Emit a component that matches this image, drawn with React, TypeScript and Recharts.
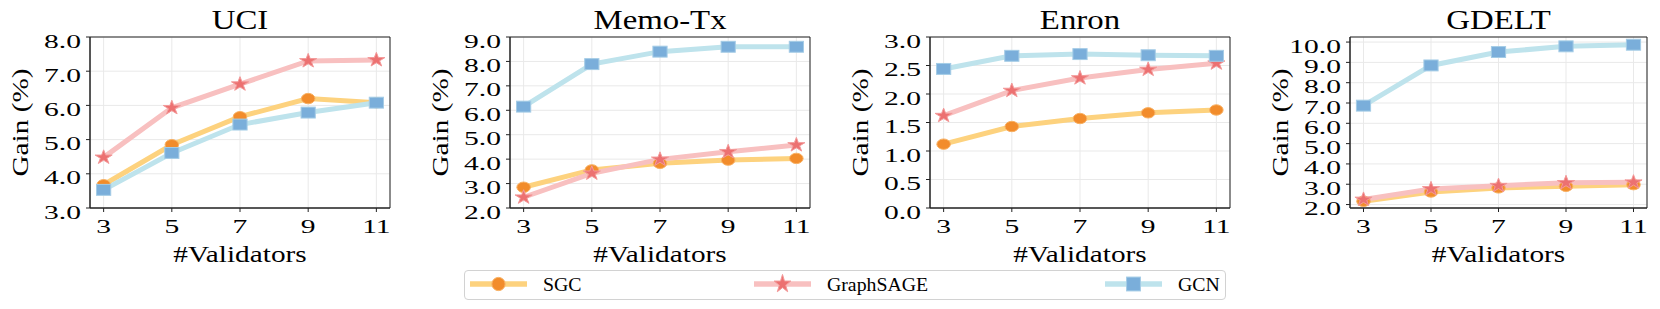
import React from 'react';
import { LineChart, Line, XAxis, YAxis, CartesianGrid, ReferenceArea } from 'recharts';

const FONT = '"Liberation Serif", "DejaVu Serif", serif';

const validators = [3, 5, 7, 9, 11];
const datasets = ['UCI', 'Memo-Tx', 'Enron', 'GDELT'];

// gain (%) at 3 / 5 / 7 / 9 / 11 validators
const sgcUci = [3.68, 4.85, 5.67, 6.2, 6.08];
const sageUci = [4.48, 5.93, 6.62, 7.3, 7.33];
const gcnUci = [3.53, 4.61, 5.44, 5.79, 6.08];

const sgcMemo = [2.85, 3.56, 3.83, 3.96, 4.03];
const sageMemo = [2.44, 3.42, 3.99, 4.3, 4.58];
const gcnMemo = [6.15, 7.89, 8.4, 8.6, 8.6];

const sgcEnron = [1.12, 1.43, 1.57, 1.67, 1.72];
const sageEnron = [1.62, 2.06, 2.28, 2.43, 2.54];
const gcnEnron = [2.44, 2.67, 2.7, 2.68, 2.67];

const sgcGdelt = [2.16, 2.62, 2.82, 2.9, 2.98];
const sageGdelt = [2.25, 2.77, 2.93, 3.07, 3.1];
const gcnGdelt = [6.87, 8.85, 9.51, 9.79, 9.87];

const yTicksUci = [3, 4, 5, 6, 7, 8];
const yTicksMemo = [2, 3, 4, 5, 6, 7, 8, 9];
const yTicksEnron = [0, 0.5, 1, 1.5, 2, 2.5, 3];
const yTicksGdelt = [2, 3, 4, 5, 6, 7, 8, 9, 10];

const series = [
  { key: 'sgc', name: 'SGC', line: '#FDD27E', fill: '#F28C2B', edge: '#F8B062', shape: 'circle' },
  { key: 'sage', name: 'GraphSAGE', line: '#F8C0C0', fill: '#EC7171', edge: '#F39A9A', shape: 'star' },
  { key: 'gcn', name: 'GCN', line: '#BEE3EC', fill: '#7AAEDA', edge: '#A4CCE6', shape: 'square' },
];

const panels = [
  { title: datasets[0], sgc: sgcUci, sage: sageUci, gcn: gcnUci, domain: [3, 8], ticks: yTicksUci, left: 90, width: 300 },
  { title: datasets[1], sgc: sgcMemo, sage: sageMemo, gcn: gcnMemo, domain: [2, 9], ticks: yTicksMemo, left: 510, width: 300 },
  { title: datasets[2], sgc: sgcEnron, sage: sageEnron, gcn: gcnEnron, domain: [0, 3], ticks: yTicksEnron, left: 930, width: 300 },
  { title: datasets[3], sgc: sgcGdelt, sage: sageGdelt, gcn: gcnGdelt, domain: [1.83, 10.25], ticks: yTicksGdelt, left: 1350, width: 297 },
];

const PLOT_TOP = 37;
const PLOT_BOTTOM = 208;
const H = 309;
const Y_AXIS_W = 90;
const X_AXIS_H = 60;
const TICK_SX = 1.5; // panel text is stretched sideways in the original
const TICK_FS = 19.7;

function starPath(cx: number, cy: number, r: number, sx: number) {
  const pts: string[] = [];
  for (let k = 0; k < 10; k++) {
    const rad = k % 2 === 0 ? r : r * 0.382;
    const a = (-90 + k * 36) * Math.PI / 180;
    pts.push(`${cx + Math.cos(a) * rad * sx},${cy + Math.sin(a) * rad}`);
  }
  return 'M' + pts.join('L') + 'Z';
}

function Marker({ shape, cx, cy, fill, edge, sx, size }: any) {
  if (cx == null || cy == null) return null;
  if (shape === 'circle') {
    return <ellipse cx={cx} cy={cy} rx={size * sx} ry={size} fill={fill} stroke={edge} strokeWidth={1} />;
  }
  if (shape === 'square') {
    const w = size * 1.05;
    return <rect x={cx - w * sx} y={cy - w} width={2 * w * sx} height={2 * w} fill={fill} stroke={edge} strokeWidth={1} />;
  }
  return <path d={starPath(cx, cy, size * 1.45, sx * 0.92)} fill={fill} stroke={edge} strokeWidth={1} />;
}

const XTick = (props: any) => {
  const { x, y, payload } = props;
  return (
    <g transform={`translate(${x},${y})`}>
      <text transform={`scale(${TICK_SX},1)`} textAnchor="middle" y={19.3} fontSize={TICK_FS} fontFamily={FONT} fill="#000">
        {payload.value}
      </text>
    </g>
  );
};

const YTick = (props: any) => {
  const { x, y, payload } = props;
  return (
    <g transform={`translate(${x},${y})`}>
      <text transform={`scale(${TICK_SX},1)`} textAnchor="end" y={10.5} fontSize={TICK_FS} fontFamily={FONT} fill="#000">
        {Number(payload.value).toFixed(1)}
      </text>
    </g>
  );
};

const XLabel = ({ viewBox }: any) => {
  const cx = viewBox.x + viewBox.width / 2;
  const y = viewBox.y + 53.7;
  return (
    <text transform={`translate(${cx},${y}) scale(1.29,1)`} textAnchor="middle" fontSize={22.7} fontFamily={FONT} fill="#000">
      #Validators
    </text>
  );
};

function Panel({ p }: { p: any }) {
  const data = validators.map((v, i) => ({ x: v, sgc: p.sgc[i], sage: p.sage[i], gcn: p.gcn[i] }));
  const w = p.width + Y_AXIS_W + 10;
  return (
    <div style={{ position: 'absolute', left: p.left - Y_AXIS_W, top: 0, width: w, height: H }}>
      <LineChart
        width={w}
        height={H}
        data={data}
        margin={{ top: PLOT_TOP, right: 10, left: 0, bottom: H - PLOT_BOTTOM - X_AXIS_H }}
      >
        <CartesianGrid stroke="#e9e9e9" strokeWidth={1} />
        <XAxis
          dataKey="x"
          type="number"
          domain={[2.6, 11.4]}
          ticks={validators}
          interval={0}
          allowDataOverflow
          height={X_AXIS_H}
          tickSize={4}
          tickMargin={2}
          tick={<XTick />}
          tickLine={{ stroke: '#222' }}
          axisLine={{ stroke: '#222' }}
          label={<XLabel />}
        />
        <YAxis
          type="number"
          domain={p.domain}
          ticks={p.ticks}
          interval={0}
          allowDataOverflow
          width={Y_AXIS_W}
          tickSize={4}
          tickMargin={5}
          tick={<YTick />}
          tickLine={{ stroke: '#222' }}
          axisLine={{ stroke: '#222' }}
        />
        <ReferenceArea x1={2.6} x2={11.4} y1={p.domain[0]} y2={p.domain[1]} fill="none" stroke="#222" strokeWidth={1} />
        {series.map((s) => (
          <Line
            key={s.key}
            dataKey={s.key}
            stroke={s.line}
            strokeWidth={5}
            isAnimationActive={false}
            activeDot={false}
            dot={(d: any) => (
              <Marker key={`${s.key}-${d.index}`} shape={s.shape} cx={d.cx} cy={d.cy} fill={s.fill} edge={s.edge} sx={1.3} size={5.2} />
            )}
          />
        ))}
      </LineChart>
    </div>
  );
}

const legendSlots = [5, 289, 640];

function Legend() {
  return (
    <div
      style={{
        position: 'absolute', left: 464, top: 270, width: 762, height: 30,
        border: '1px solid #d2d2d2', borderRadius: 4, boxSizing: 'border-box', background: '#fff',
      }}
    >
      <svg width={760} height={28} style={{ position: 'absolute', left: 0, top: 0 }}>
        {series.map((s, i) => {
          const x0 = legendSlots[i];
          return (
            <g key={s.key}>
              <line x1={x0} x2={x0 + 57} y1={13} y2={13} stroke={s.line} strokeWidth={5.5} />
              <Marker shape={s.shape} cx={x0 + 28.5} cy={13} fill={s.fill} edge={s.edge} sx={1} size={6.6} />
              <text x={x0 + 73} y={19.5} fontSize={19.8} fontFamily={FONT} fill="#000">{s.name}</text>
            </g>
          );
        })}
      </svg>
    </div>
  );
}

export default function App() {
  const midY = (PLOT_TOP + PLOT_BOTTOM) / 2;
  return (
    <div style={{ position: 'absolute', left: 0, top: 0, width: 1660, height: H, background: '#fff', overflow: 'hidden' }}>
      {panels.map((p) => (
        <Panel key={p.title} p={p} />
      ))}
      <svg width={1660} height={H} style={{ position: 'absolute', left: 0, top: 0, pointerEvents: 'none' }}>
        {panels.map((p) => (
          <text
            key={`t-${p.title}`}
            transform={`translate(${p.left + p.width / 2},29.3) scale(1.24,1)`}
            textAnchor="middle"
            fontSize={26.5}
            fontFamily={FONT}
            fill="#000"
          >
            {p.title}
          </text>
        ))}
        {panels.map((p) => (
          <text
            key={`y-${p.title}`}
            transform={`translate(${p.left - 70},${midY}) rotate(-90) scale(1.33,1.08)`}
            textAnchor="middle"
            dominantBaseline="central"
            fontSize={22}
            fontFamily={FONT}
            fill="#000"
          >
            Gain (%)
          </text>
        ))}
      </svg>
      <Legend />
    </div>
  );
}
